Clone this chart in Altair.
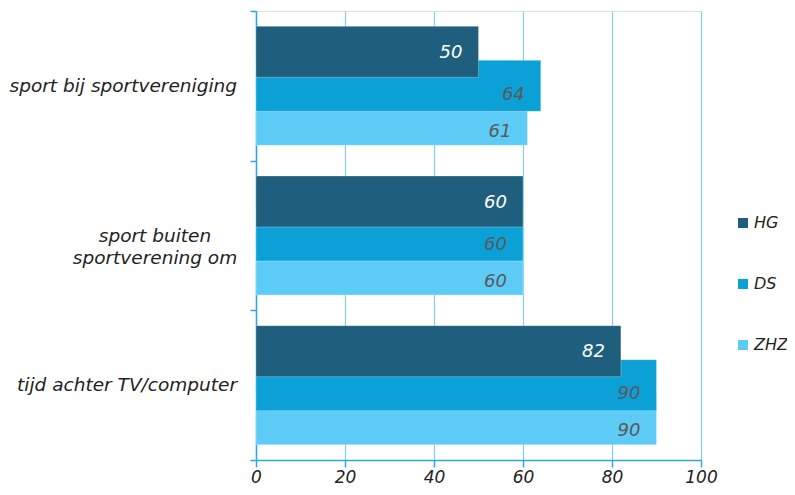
import altair as alt
import pandas as pd

categories = ["sport bij sportvereniging", "sport buiten sportverening om", "tijd achter TV/computer"]
category_lines = [["sport bij sportvereniging"], ["sport buiten", "sportverening om"], ["tijd achter TV/computer"]]
series = ["HG", "DS", "ZHZ"]
hg = [50, 60, 82]
ds = [64, 60, 90]
zhz = [61, 60, 90]
x_ticks = [0, 20, 40, 60, 80, 100]
colors = ["#1f5f7d", "#0ca1d6", "#5ccbf6"]
label_colors = ["#ffffff", "#595959", "#595959"]

FONT = "DejaVu Sans"
TXT = "#222222"
DOMAIN = "#2aa8df"
GRID = "#80cfee"
CAT_FS = 18.5

rows = []
for s, vals in zip(series, [hg, ds, zhz]):
    for c, v in zip(categories, vals):
        rows.append({"cat": c, "series": s, "value": v})
df = pd.DataFrame(rows)

lab_df = pd.DataFrame({"cat": categories, "lines": category_lines,
                       "n": [len(l) for l in category_lines]})

y_scale = alt.Scale(domain=categories, paddingInner=0, paddingOuter=0)
y_axis = alt.Axis(labels=False, title=None, tickBand="extent", tickSize=6,
                  domainColor=DOMAIN, tickColor=DOMAIN, domainWidth=1.5, tickWidth=1.5, grid=False)
x_scale = alt.Scale(domain=[0, 100])
x_axis = alt.Axis(values=x_ticks, title=None, grid=True, gridColor=GRID, gridWidth=1.2,
                  domainColor=DOMAIN, tickColor=DOMAIN, domainWidth=1.5, tickWidth=1.5, tickSize=7,
                  labelFont=FONT, labelFontSize=17, labelFontStyle="italic", labelColor=TXT,
                  labelPadding=2, labelFlush=False)

color_enc = alt.Color("series:N", scale=alt.Scale(domain=series, range=colors),
                      legend=alt.Legend(title=None, orient="none", legendX=479, legendY=204,
                                        symbolType="square", symbolSize=100, symbolStrokeWidth=0,
                                        labelFont=FONT, labelFontSize=16, labelFontStyle="italic",
                                        labelColor=TXT, rowPadding=45, labelOffset=3))

bar_offsets = {"HG": -34, "DS": 0, "ZHZ": 34}
text_offsets = {"HG": -33, "DS": 9, "ZHZ": 46}

base = alt.Chart(df)
bars = []
texts = []
for s in reversed(series):
    b = base.transform_filter(alt.datum.series == s).mark_bar(
        height=51, yOffset=bar_offsets[s], stroke="#ffffff", strokeOpacity=0.35, strokeWidth=0.8
    ).encode(
        x=alt.X("value:Q", scale=x_scale, axis=x_axis),
        y=alt.Y("cat:N", scale=y_scale, axis=y_axis, sort=categories),
        color=color_enc,
    )
    bars.append(b)
for s, lc in zip(series, label_colors):
    t = base.transform_filter(alt.datum.series == s).mark_text(
        align="right", baseline="middle", dx=-16, dy=text_offsets[s],
        font=FONT, fontSize=18, fontStyle="italic", color=lc
    ).encode(
        x=alt.X("value:Q", scale=x_scale, axis=x_axis),
        y=alt.Y("cat:N", scale=y_scale, axis=y_axis, sort=categories),
        text=alt.Text("value:Q"),
    )
    texts.append(t)

lab_base = alt.Chart(lab_df)
single = lab_base.transform_filter("datum.n == 1").mark_text(
    align="right", baseline="middle", font=FONT, fontSize=CAT_FS, fontStyle="italic", color=TXT
).encode(
    x=alt.value(-19),
    y=alt.Y("cat:N", scale=y_scale, axis=y_axis, sort=categories),
    text="lines",
)
multi = lab_base.transform_filter("datum.n > 1").mark_text(
    align="center", baseline="middle", font=FONT, fontSize=CAT_FS, fontStyle="italic", color=TXT,
    lineHeight=22
).encode(
    x=alt.value(-101),
    y=alt.Y("cat:N", scale=y_scale, axis=y_axis, sort=categories),
    text="lines",
)

chart = alt.layer(*bars, *texts, single, multi).properties(
    width=445, height=449,
    autosize=alt.AutoSizeParams(type="none"),
    padding={"left": 248, "top": 3, "right": 86, "bottom": 26},
).configure_view(stroke=None).configure(background="#ffffff")

chart.save("out.html", embed_options={"renderer": "svg", "actions": False})
